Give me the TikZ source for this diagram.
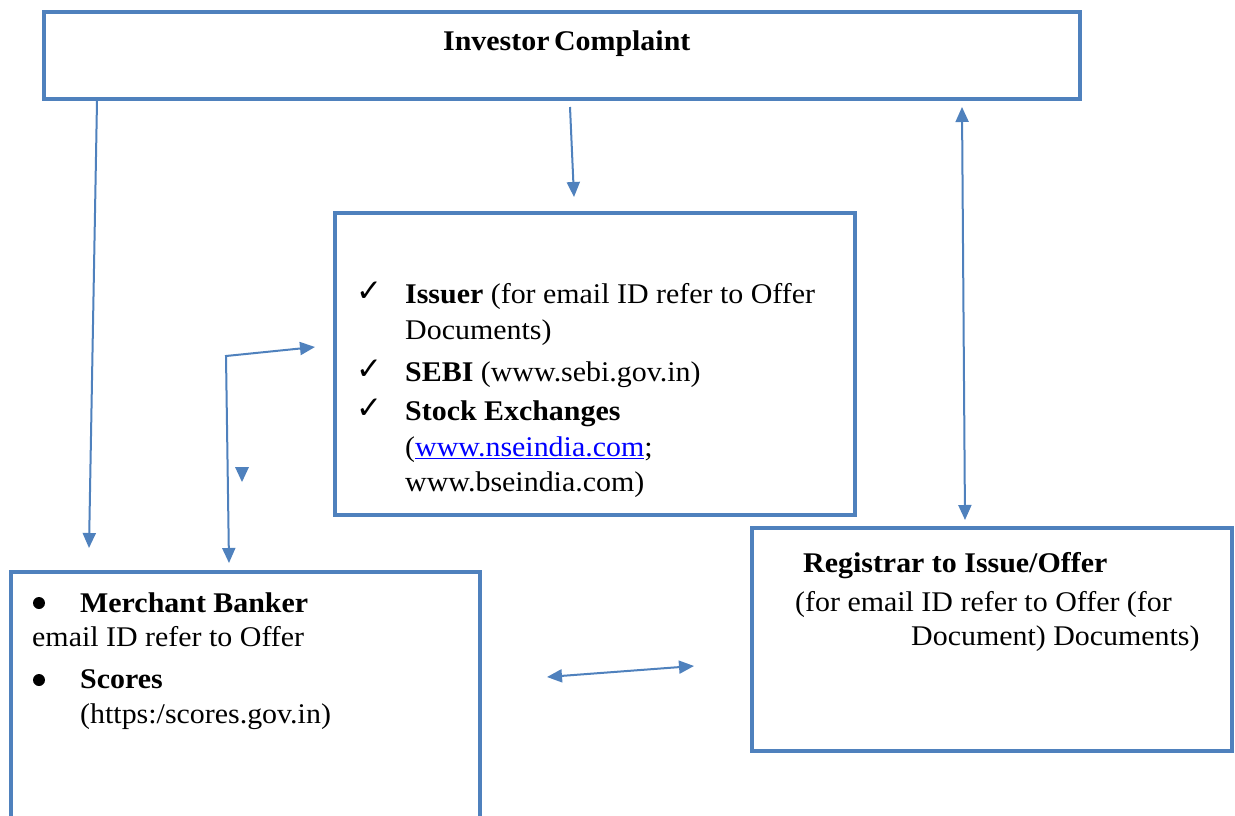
\documentclass[tikz,border=0pt]{standalone}
\usepackage{fontspec}
\setmainfont{Liberation Serif}[FakeStretch=1.05]
\newfontfamily\checkfont{DejaVu Sans}
\usetikzlibrary{arrows.meta}
\definecolor{boxblue}{HTML}{4F81BD}
\definecolor{linkblue}{HTML}{0000FF}
\tikzset{
  box/.style={draw=boxblue, line width=4.5pt, inner sep=0pt, outer sep=0pt, fill=white},
  conn/.style={draw=boxblue, line width=2pt, -{Triangle[length=15pt,width=13pt]}},
  bconn/.style={draw=boxblue, line width=2pt, {Triangle[length=15pt,width=13pt]}-{Triangle[length=15pt,width=13pt]}},
  txt/.style={anchor=base west, inner sep=0pt, font=\fontsize{28.5}{33}\selectfont},
  btxt/.style={txt, font=\fontsize{28.5}{33}\selectfont\bfseries},
  chk/.style={anchor=base west, inner sep=0pt, font=\checkfont\fontsize{31}{35}\selectfont}
}
\begin{document}
\begin{tikzpicture}[x=1pt,y=-1pt]
\useasboundingbox (0,0) rectangle (1235,816);
\clip (0,0) rectangle (1235,816);
\fill[white] (0,0) rectangle (1235,816);
% boxes
\node[box, minimum width=1036pt, minimum height=87pt] (top) at (562,55.5) {};
\node[box, minimum width=520pt, minimum height=302pt] (mid) at (595,364) {};
\node[box, minimum width=469pt, minimum height=258pt] (left) at (245.5,701) {};
\node[box, minimum width=480pt, minimum height=223pt] (right) at (992,639.5) {};
% top text
\node[btxt] (tt) at (443,51) {Investor\hspace{-3pt} Complaint};
% middle text
\node[chk] (c1) at (356,301) {✓};
\node[txt] (m1) at (405,303) {\textbf{Issuer} (for email ID refer to Offer};
\node[txt] (m2) at (405,339.5) {Documents)};
\node[chk] (c2) at (356,379) {✓};
\node[txt] (m3) at (405,381) {\textbf{SEBI} (www.sebi.gov.in)};
\node[chk] (c3) at (356,418) {✓};
\node[btxt] (m4) at (405,420) {Stock Exchanges};
\node[txt] (m5) at (405,456.5) {(\textcolor{linkblue}{\underline{www.nseindia.com}};};
\node[txt] (m6) at (405,491) {www.bseindia.com)};
% left text
\fill (left.north west) ++(28,31) coordinate (b1) circle (6pt);
\fill (left.north west) ++(28,108) coordinate (b2) circle (6pt);
\node[btxt] (l1) at (80,612) {Merchant Banker};
\node[txt] (l2) at (32,646) {email ID refer to Offer};
\node[btxt] (l3) at (80,688) {Scores};
\node[txt] (l4) at (80,723) {(https:/scores.gov.in)};
% right text
\node[btxt] (r1) at (803,572) {Registrar to Issue/Offer};
\node[txt] (r2) at (795,611) {(for email ID refer to Offer (for};
\node[txt] (r3) at (911,645) {Document) Documents)};
% connectors
\coordinate (a1s) at (97,101);
\coordinate (a1e) at (89,548);
\draw[conn] (a1s) -- (a1e);
\coordinate (a2s) at (570,107);
\coordinate (a2e) at (574,197);
\draw[conn] (a2s) -- (a2e);
\coordinate (a3s) at (962,107);
\coordinate (a3e) at (965,520);
\draw[bconn] (a3s) -- (a3e);
\coordinate (lb) at (229,563);
\coordinate (lc) at (226,356);
\coordinate (lr) at (315,347);
\draw[bconn, line join=miter] (lb) -- (lc) -- (lr);
\coordinate (h1) at (547,677);
\coordinate (h2) at (694,666);
\draw[bconn] (h1) -- (h2);
\coordinate (st) at (242,482);
\fill[boxblue] (st) -- ++(-7,-15) -- ++(14,0) -- cycle;
\end{tikzpicture}
\end{document}
